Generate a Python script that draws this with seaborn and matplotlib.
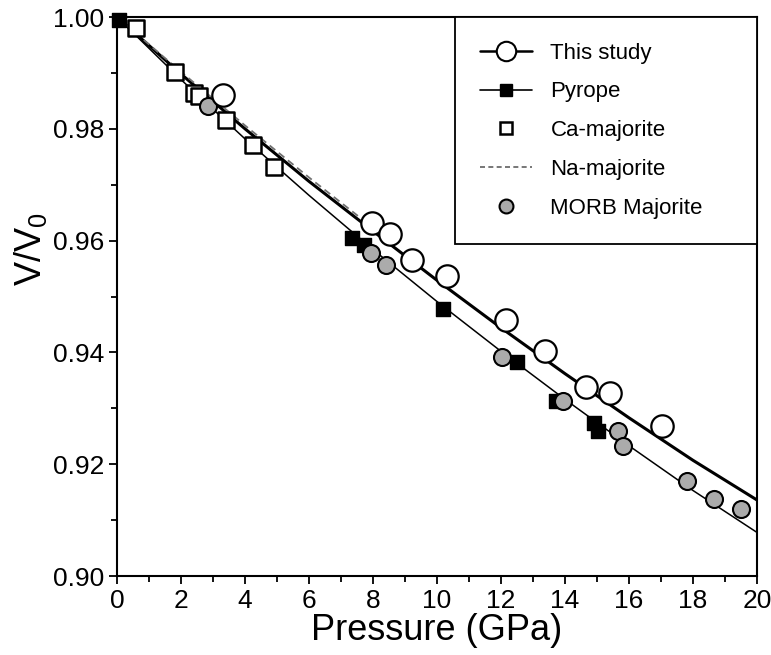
import matplotlib
matplotlib.use("Agg")
import matplotlib.pyplot as plt
from matplotlib.lines import Line2D
from matplotlib.ticker import MultipleLocator, FormatStrFormatter
import seaborn as sns

# ---- data ----
this_p = [3.32, 7.96, 8.53, 9.21, 10.32, 12.15, 13.38, 14.66, 15.40, 17.04]
this_v = [0.9860, 0.9631, 0.9612, 0.9566, 0.9537, 0.9458, 0.9402, 0.9339, 0.9328, 0.9269]

pyrope_p = [0.05, 7.33, 7.73, 10.20, 12.51, 13.72, 14.90, 15.04]
pyrope_v = [0.9995, 0.9604, 0.9592, 0.9477, 0.9382, 0.9313, 0.9274, 0.9259]

ca_p = [0.59, 1.81, 2.42, 2.57, 3.41, 4.26, 4.89]
ca_v = [0.9980, 0.9901, 0.9864, 0.9859, 0.9816, 0.9771, 0.9731]

morb_p = [2.85, 7.93, 8.40, 12.02, 13.95, 15.67, 15.82, 17.80, 18.67, 19.49]
morb_v = [0.9841, 0.9577, 0.9556, 0.9391, 0.9313, 0.9259, 0.9233, 0.9170, 0.9138, 0.9119]

# fitted curves
fit_this_p = [0, 2, 4, 6, 8, 10, 12, 14, 16, 18, 20]
fit_this_v = [1.0, 0.9898, 0.9800, 0.9706, 0.9617, 0.9529, 0.9444, 0.9362, 0.9283, 0.9207, 0.9136]

fit_pyrope_p = [0, 2, 4, 6, 8, 10, 12, 14, 16, 18, 20]
fit_pyrope_v = [1.0, 0.9888, 0.9782, 0.9681, 0.9584, 0.9491, 0.9402, 0.9316, 0.9233, 0.9153, 0.9078]

fit_na_p = [0, 2, 4, 6, 7.6]
fit_na_v = [1.0, 0.9902, 0.9806, 0.9713, 0.9641]

xticks = [0, 2, 4, 6, 8, 10, 12, 14, 16, 18, 20]
yticks = [0.90, 0.92, 0.94, 0.96, 0.98, 1.00]

# ---- style ----
sns.set_style("ticks")
plt.rcParams['font.family'] = ['Liberation Sans', 'DejaVu Sans']
for k in ['text.color', 'axes.labelcolor', 'xtick.color', 'ytick.color', 'axes.edgecolor']:
    plt.rcParams[k] = 'black'

fig = plt.figure(figsize=(7.71, 6.55), dpi=100)
ax = fig.add_axes([0.1518, 0.1206, 0.9818 - 0.1518, 0.974 - 0.1206])

# curves
sns.lineplot(x=fit_pyrope_p, y=fit_pyrope_v, color='black', linewidth=1.1, ax=ax, zorder=2)
sns.lineplot(x=fit_this_p, y=fit_this_v, color='black', linewidth=2.2, ax=ax, zorder=2)
sns.lineplot(x=fit_na_p, y=fit_na_v, color='#707070', linewidth=1.3, linestyle=(0, (4, 2.5)), ax=ax, zorder=3)

# points
sns.scatterplot(x=ca_p, y=ca_v, marker='s', s=120, color='white', edgecolor='black',
                linewidth=1.8, ax=ax, zorder=4)
sns.scatterplot(x=pyrope_p, y=pyrope_v, marker='s', s=110, color='black', edgecolor='black',
                linewidth=1.0, ax=ax, zorder=5, clip_on=False)
sns.scatterplot(x=morb_p, y=morb_v, marker='o', s=150, color='#ababab', edgecolor='black',
                linewidth=1.5, ax=ax, zorder=6)
sns.scatterplot(x=this_p, y=this_v, marker='o', s=260, color='white', edgecolor='black',
                linewidth=1.6, ax=ax, zorder=7)

ax.set_xlim(0, 20)
ax.set_ylim(0.90, 1.00)
ax.set_xticks(xticks)
ax.set_yticks(yticks)
ax.xaxis.set_minor_locator(MultipleLocator(1))
ax.yaxis.set_minor_locator(MultipleLocator(0.01))
ax.yaxis.set_major_formatter(FormatStrFormatter('%.2f'))
ax.tick_params(axis='both', which='major', direction='out', length=6, width=1.3,
               labelsize=19, top=False, right=False, pad=3)
ax.tick_params(axis='both', which='minor', direction='out', length=4, width=1.3,
               top=False, right=False)
for s in ax.spines.values():
    s.set_visible(True)
    s.set_linewidth(1.5)
    s.set_color('black')

ax.set_xlabel('Pressure (GPa)', fontsize=26, labelpad=0)
ax.set_ylabel('V/V$_\\mathregular{0}$', fontsize=26)
ax.yaxis.set_label_coords(-0.106, 0.585)

handles = [
    Line2D([], [], color='black', linewidth=1.8, marker='o', markersize=14,
           markerfacecolor='white', markeredgecolor='black', markeredgewidth=1.5),
    Line2D([], [], color='black', linewidth=1.2, marker='s', markersize=8,
           markerfacecolor='black', markeredgecolor='black'),
    Line2D([], [], linestyle='none', marker='s', markersize=8,
           markerfacecolor='white', markeredgecolor='black', markeredgewidth=1.8),
    Line2D([], [], color='#606060', linewidth=1.2, linestyle=(0, (3, 2))),
    Line2D([], [], linestyle='none', marker='o', markersize=10,
           markerfacecolor='#ababab', markeredgecolor='black', markeredgewidth=1.5),
]
labels = ['This study', 'Pyrope', 'Ca-majorite', 'Na-majorite', 'MORB Majorite']
leg = ax.legend(handles, labels, loc='upper right', bbox_to_anchor=(0.528, 0.0, 0.472, 1.0),
                mode='expand', borderaxespad=0, fontsize=16, frameon=True, fancybox=False,
                edgecolor='black', framealpha=1, labelspacing=0.8, handlelength=2.3,
                handletextpad=0.85, borderpad=1.15)
leg.get_frame().set_linewidth(1.3)
leg.set_zorder(10)

fig.savefig('out.png', dpi=100)
